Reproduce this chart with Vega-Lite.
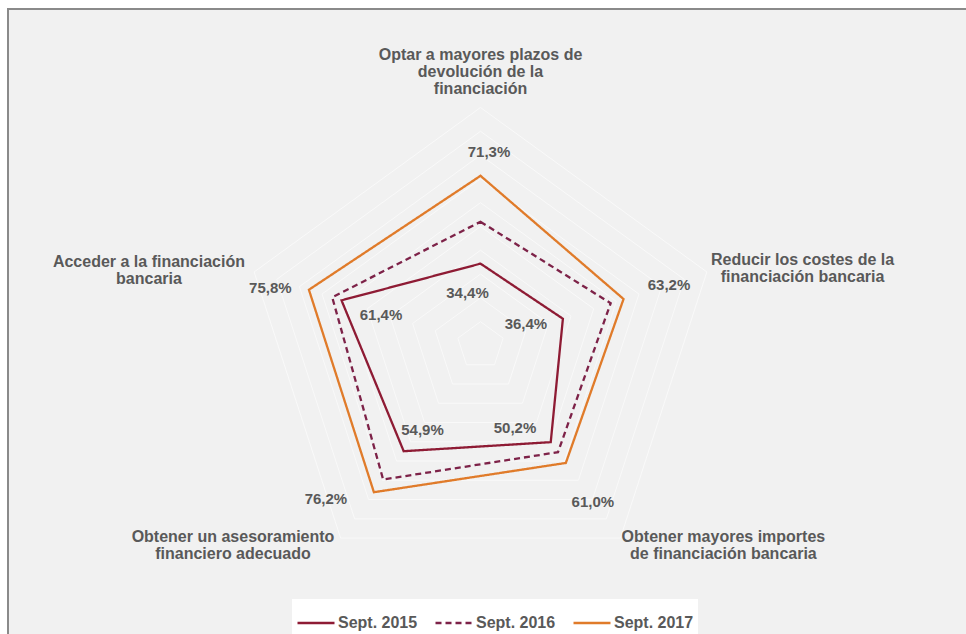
{
  "$schema": "https://vega.github.io/schema/vega-lite/v6.json",
  "width": 960,
  "height": 627,
  "autosize": {"type": "none"},
  "padding": {"left": 8, "top": 9, "right": 0, "bottom": 0},
  "background": "white",
  "config": {
    "view": {"fill": "#f1f1f1", "stroke": "#8a8a8a", "strokeWidth": 2},
    "font": "Liberation Sans"
  },
  "datasets": {
    "vals": [
      {"cat": "Optar a mayores plazos de devolución de la financiación", "idx": 0, "serie": "Sept. 2015", "value": 34.4},
      {"cat": "Reducir los costes de la financiación bancaria", "idx": 1, "serie": "Sept. 2015", "value": 36.4},
      {"cat": "Obtener mayores importes de financiación bancaria", "idx": 2, "serie": "Sept. 2015", "value": 50.2},
      {"cat": "Obtener un asesoramiento financiero adecuado", "idx": 3, "serie": "Sept. 2015", "value": 54.9},
      {"cat": "Acceder a la financiación bancaria", "idx": 4, "serie": "Sept. 2015", "value": 61.4},
      {"cat": "Optar a mayores plazos de devolución de la financiación", "idx": 0, "serie": "Sept. 2016", "value": 52.0},
      {"cat": "Reducir los costes de la financiación bancaria", "idx": 1, "serie": "Sept. 2016", "value": 57.5},
      {"cat": "Obtener mayores importes de financiación bancaria", "idx": 2, "serie": "Sept. 2016", "value": 55.4},
      {"cat": "Obtener un asesoramiento financiero adecuado", "idx": 3, "serie": "Sept. 2016", "value": 69.6},
      {"cat": "Acceder a la financiación bancaria", "idx": 4, "serie": "Sept. 2016", "value": 65.5},
      {"cat": "Optar a mayores plazos de devolución de la financiación", "idx": 0, "serie": "Sept. 2017", "value": 71.3},
      {"cat": "Reducir los costes de la financiación bancaria", "idx": 1, "serie": "Sept. 2017", "value": 63.2},
      {"cat": "Obtener mayores importes de financiación bancaria", "idx": 2, "serie": "Sept. 2017", "value": 61.0},
      {"cat": "Obtener un asesoramiento financiero adecuado", "idx": 3, "serie": "Sept. 2017", "value": 76.2},
      {"cat": "Acceder a la financiación bancaria", "idx": 4, "serie": "Sept. 2017", "value": 75.8}
    ],
    "grid": [
      {"level": 10, "idx": [0, 1, 2, 3, 4]},
      {"level": 20, "idx": [0, 1, 2, 3, 4]},
      {"level": 30, "idx": [0, 1, 2, 3, 4]},
      {"level": 40, "idx": [0, 1, 2, 3, 4]},
      {"level": 50, "idx": [0, 1, 2, 3, 4]},
      {"level": 60, "idx": [0, 1, 2, 3, 4]},
      {"level": 70, "idx": [0, 1, 2, 3, 4]},
      {"level": 80, "idx": [0, 1, 2, 3, 4]},
      {"level": 90, "idx": [0, 1, 2, 3, 4]},
      {"level": 100, "idx": [0, 1, 2, 3, 4]}
    ],
    "cats": [
      {"idx": 0, "level": 100, "label": ["Optar a mayores plazos de", "devolución de la", "financiación"]},
      {"idx": 1, "level": 100, "label": ["Reducir los costes de la", "financiación bancaria"]},
      {"idx": 2, "level": 100, "label": ["Obtener mayores importes", "de financiación bancaria"]},
      {"idx": 3, "level": 100, "label": ["Obtener un asesoramiento", "financiero adecuado"]},
      {"idx": 4, "level": 100, "label": ["Acceder a la financiación", "bancaria"]}
    ]
  },
  "layer": [
    {
      "data": {"name": "grid"},
      "transform": [
        {"flatten": ["idx"]},
        {"calculate": "PI/2 - datum.idx*2*PI/5", "as": "ang"},
        {"calculate": "datum.level*cos(datum.ang)", "as": "px"},
        {"calculate": "datum.level*sin(datum.ang)", "as": "py"}
      ],
      "mark": {"type": "line", "interpolate": "linear-closed", "stroke": "#f9f9f9", "strokeWidth": 1},
      "encoding": {
        "x": {"field": "px", "type": "quantitative", "scale": {"domain": [-198.53, 204.83], "nice": false, "zero": false}, "axis": null},
        "y": {"field": "py", "type": "quantitative", "scale": {"domain": [-122.06, 141.39], "nice": false, "zero": false}, "axis": null},
        "detail": {"field": "level", "type": "nominal"},
        "order": {"field": "idx", "type": "quantitative"}
      }
    },
    {
      "data": {"name": "vals"},
      "transform": [
        {"calculate": "PI/2 - datum.idx*2*PI/5", "as": "ang"},
        {"calculate": "datum.value*cos(datum.ang)", "as": "px"},
        {"calculate": "datum.value*sin(datum.ang)", "as": "py"}
      ],
      "mark": {"type": "line", "interpolate": "linear-closed", "strokeWidth": 2.3},
      "encoding": {
        "x": {"field": "px", "type": "quantitative", "axis": null},
        "y": {"field": "py", "type": "quantitative", "axis": null},
        "order": {"field": "idx", "type": "quantitative"},
        "color": {
          "field": "serie", "type": "nominal",
          "scale": {"domain": ["Sept. 2015", "Sept. 2016", "Sept. 2017"], "range": ["#8E1B34", "#7D2248", "#E07B2A"]},
          "legend": {
            "title": null, "orient": "none", "direction": "horizontal",
            "legendX": 284, "legendY": 590,
            "symbolType": "stroke", "symbolSize": 1369, "symbolStrokeWidth": 2.5,
            "labelFont": "Liberation Sans", "labelFontSize": 16, "labelFontWeight": "bold", "labelColor": "#595959",
            "labelOffset": 2, "columnPadding": 12, "padding": 4, "fillColor": "white"
          }
        },
        "strokeDash": {
          "field": "serie", "type": "nominal",
          "scale": {"domain": ["Sept. 2015", "Sept. 2016", "Sept. 2017"], "range": [[1, 0], [6, 4], [1, 0]]}
        }
      }
    },
    {
      "data": {"name": "vals"},
      "transform": [
        {"filter": "datum.serie == 'Sept. 2017'"},
        {"calculate": "PI/2 - datum.idx*2*PI/5", "as": "ang"},
        {"calculate": "datum.value*cos(datum.ang)", "as": "px"},
        {"calculate": "datum.value*sin(datum.ang)", "as": "py"},
        {"calculate": "replace(format(datum.value, '.1f'), '.', ',') + '%'", "as": "lbl"}
      ],
      "mark": {
        "type": "text", "align": "center", "baseline": "middle",
        "font": "Liberation Sans", "fontSize": 15, "fontWeight": "bold", "color": "#595959",
        "dx": {"expr": "[8.5, 45.4, 27, -48, -38.6][datum.idx]"},
        "dy": {"expr": "[-23.5, -14, 39.5, 7, -2][datum.idx]"}
      },
      "encoding": {
        "x": {"field": "px", "type": "quantitative", "axis": null},
        "y": {"field": "py", "type": "quantitative", "axis": null},
        "text": {"field": "lbl", "type": "nominal"}
      }
    },
    {
      "data": {"name": "vals"},
      "transform": [
        {"filter": "datum.serie == 'Sept. 2015'"},
        {"calculate": "PI/2 - datum.idx*2*PI/5", "as": "ang"},
        {"calculate": "datum.value*cos(datum.ang)", "as": "px"},
        {"calculate": "datum.value*sin(datum.ang)", "as": "py"},
        {"calculate": "replace(format(datum.value, '.1f'), '.', ',') + '%'", "as": "lbl"}
      ],
      "mark": {
        "type": "text", "align": "center", "baseline": "middle",
        "font": "Liberation Sans", "fontSize": 15, "fontWeight": "bold", "color": "#595959",
        "dx": {"expr": "[-13, -37, -35.7, 18.8, 39.5][datum.idx]"},
        "dy": {"expr": "[29.4, 5, -13.7, -21, 14.7][datum.idx]"}
      },
      "encoding": {
        "x": {"field": "px", "type": "quantitative", "axis": null},
        "y": {"field": "py", "type": "quantitative", "axis": null},
        "text": {"field": "lbl", "type": "nominal"}
      }
    },
    {
      "data": {"name": "cats"},
      "transform": [
        {"calculate": "PI/2 - datum.idx*2*PI/5", "as": "ang"},
        {"calculate": "datum.level*cos(datum.ang)", "as": "px"},
        {"calculate": "datum.level*sin(datum.ang)", "as": "py"}
      ],
      "mark": {
        "type": "text", "align": "center", "baseline": "alphabetic", "lineHeight": 17,
        "font": "Liberation Sans", "fontSize": 16, "fontWeight": "bold", "color": "#595959",
        "dx": {"expr": "[0, 95.7, 103, -107.6, -105.2][datum.idx]"},
        "dy": {"expr": "[-47.5, -7, 4, 4, -5.3][datum.idx]"}
      },
      "encoding": {
        "x": {"field": "px", "type": "quantitative", "axis": null},
        "y": {"field": "py", "type": "quantitative", "axis": null},
        "text": {"field": "label", "type": "nominal"}
      }
    }
  ]
}
